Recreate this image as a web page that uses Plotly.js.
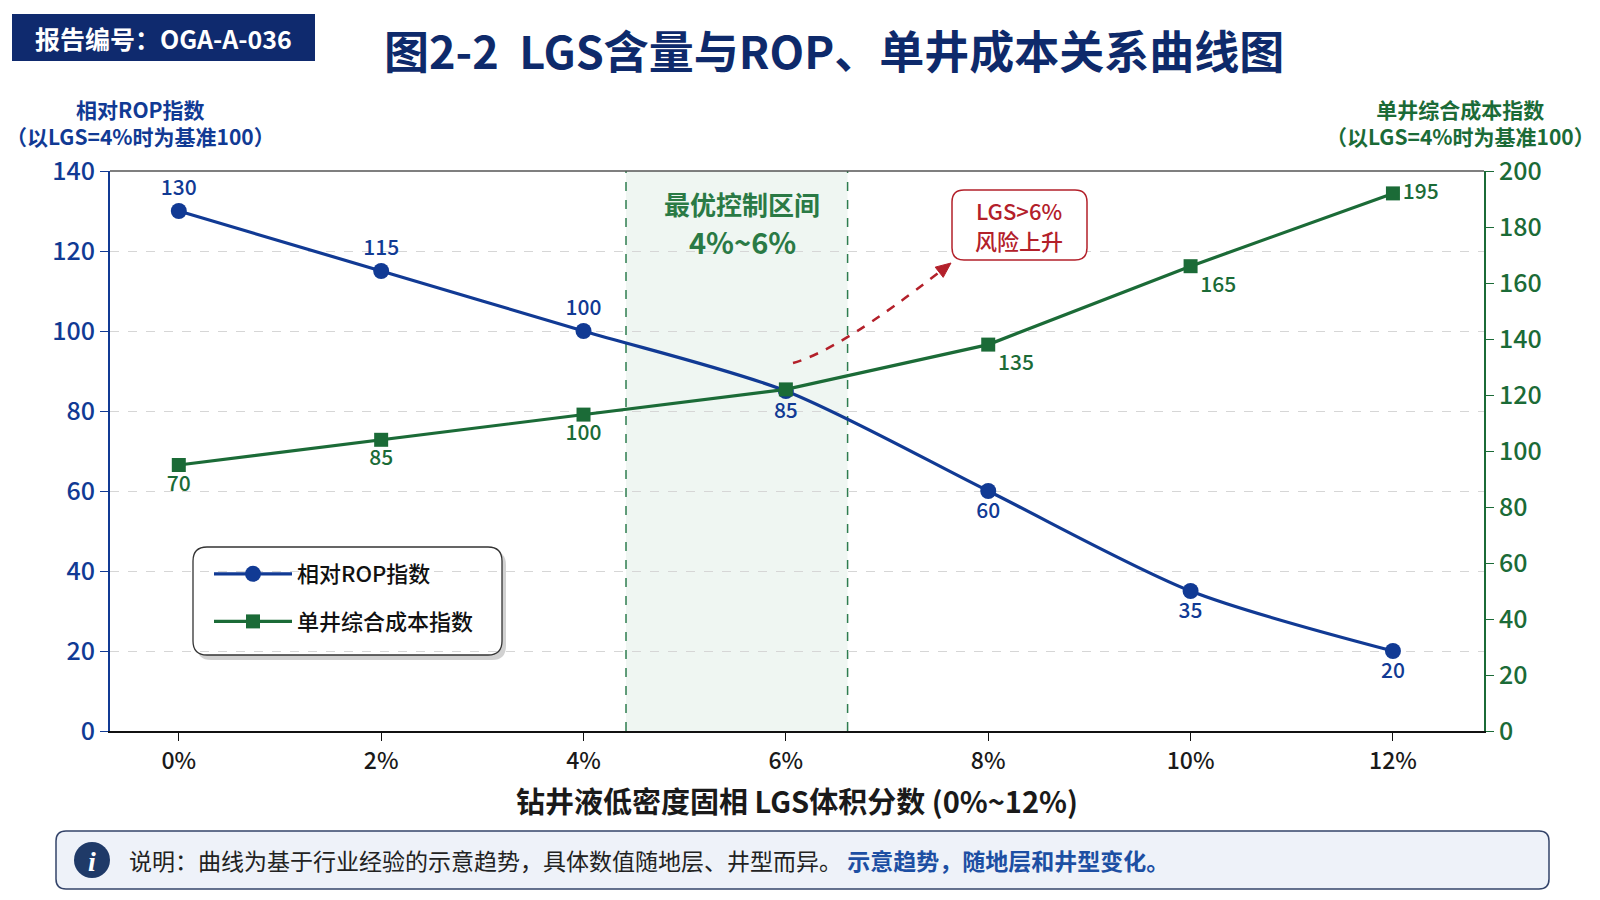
<!DOCTYPE html>
<html>
<head>
<meta charset="utf-8">
<script src="https://cdn.plot.ly/plotly-3.0.1.min.js"></script>
<style>
  html, body { margin: 0; padding: 0; background: #ffffff; }
  #chart { width: 1600px; height: 900px; }
</style>
</head>
<body>
<div id="chart"></div>
<script>
// LGS volume fraction (%) and the two index series
const lgs_pct = [0, 2, 4, 6, 8, 10, 12];
const x_tick_labels = ["0%", "2%", "4%", "6%", "8%", "10%", "12%"];
const rop_index = [130, 115, 100, 85, 60, 35, 20];
const rop_labels = ["130", "115", "100", "85", "60", "35", "20"];
const cost_index = [95, 104, 113, 122, 138, 166, 192];
const cost_labels = ["70", "85", "100", "", "135", "165", "195"];

const font_cjk = "Noto Sans CJK SC, Noto Sans, sans-serif";
const blue = "#113a94";
const green = "#1b6b37";
const navy = "#0e2a6b";
const red = "#b3202a";

// plot area in pixels, used to place the decorations
const plot_l = 110, plot_r = 1484, plot_t = 171, plot_b = 731;
function px(x) { return (x - plot_l) / (plot_r - plot_l); }
function py(y) { return (plot_b - y) / (plot_b - plot_t); }

function rounded_rect(x0, y0, x1, y1, r)
{
    const p = (x, y) => px(x) + "," + py(y);
    return "M" + p(x0 + r, y0) + " L" + p(x1 - r, y0) + " Q" + p(x1, y0) + " " + p(x1, y0 + r) +
        " L" + p(x1, y1 - r) + " Q" + p(x1, y1) + " " + p(x1 - r, y1) +
        " L" + p(x0 + r, y1) + " Q" + p(x0, y1) + " " + p(x0, y1 - r) +
        " L" + p(x0, y0 + r) + " Q" + p(x0, y0) + " " + p(x0 + r, y0) + " Z";
}

function arrow_head(tip_x, tip_y, from_x, from_y, len, half)
{
    const dx = tip_x - from_x, dy = tip_y - from_y;
    const d = Math.sqrt(dx * dx + dy * dy);
    const ux = dx / d, uy = dy / d;
    const bx = tip_x - ux * len, by = tip_y - uy * len;
    const p = (x, y) => px(x) + "," + py(y);
    return "M" + p(tip_x, tip_y) + " L" + p(bx - uy * half, by + ux * half) +
        " L" + p(bx + uy * half, by - ux * half) + " Z";
}

// text placed by pixel centre
function label(x, y, text, size, color, extra)
{
    return Object.assign({xref: "paper", yref: "paper", x: px(x), y: py(y), text: text,
        xanchor: "center", yanchor: "middle", showarrow: false,
        font: {family: font_cjk, size: size, color: color}}, extra || {});
}

const rop_trace = {
    x: lgs_pct, y: rop_index, name: "相对ROP指数",
    mode: "lines+markers+text", text: rop_labels,
    textposition: ["top center", "top center", "top center", "bottom center", "bottom center", "bottom center", "bottom center"],
    textfont: {family: font_cjk, size: 21, color: blue, weight: 500},
    line: {color: blue, width: 3.2, shape: "spline", smoothing: 0.8},
    marker: {symbol: "circle", size: 16, color: blue},
    legendgroup: "a", cliponaxis: false
};
const cost_trace = {
    x: lgs_pct, y: cost_index, name: "单井综合成本指数", yaxis: "y2",
    mode: "lines+markers+text", text: cost_labels,
    textposition: ["bottom center", "bottom center", "bottom center", "bottom center", "bottom right", "bottom right", "middle right"],
    textfont: {family: font_cjk, size: 21, color: green, weight: 500},
    line: {color: green, width: 3.2},
    marker: {symbol: "square", size: 14, color: green},
    legendgroup: "b", cliponaxis: false
};

const shapes = [
    // optimal band 4%~6%
    {type: "rect", xref: "x", yref: "paper", x0: 4.42, x1: 6.61, y0: 0, y1: 1,
     fillcolor: "rgba(46,139,87,0.08)", line: {width: 0}, layer: "below"},
    {type: "line", xref: "x", yref: "paper", x0: 4.42, x1: 4.42, y0: 0, y1: 1,
     line: {color: "#2e7d4f", width: 1.5, dash: "dash"}, layer: "below"},
    {type: "line", xref: "x", yref: "paper", x0: 6.61, x1: 6.61, y0: 0, y1: 1,
     line: {color: "#2e7d4f", width: 1.5, dash: "dash"}, layer: "below"},
    // top frame line
    {type: "line", xref: "paper", yref: "paper", x0: 0, x1: 1, y0: 1, y1: 1,
     line: {color: "#555555", width: 1.5}},
    // legend box with shadow
    {type: "path", xref: "paper", yref: "paper", path: rounded_rect(197, 551, 506, 660, 14),
     fillcolor: "rgba(0,0,0,0.18)", line: {width: 0}, layer: "between"},
    {type: "path", xref: "paper", yref: "paper", path: rounded_rect(193, 547, 502, 655, 14),
     fillcolor: "#ffffff", line: {color: "#333333", width: 1.3}, layer: "between"},
    // risk arrow
    {type: "path", xref: "paper", yref: "paper",
     path: "M" + px(793) + "," + py(363) + " Q" + px(840) + "," + py(350) + " " + px(942) + "," + py(270),
     line: {color: red, width: 2.5, dash: "dash"}},
    {type: "path", xref: "paper", yref: "paper", path: arrow_head(951, 263, 840, 350, 15, 6.5),
     fillcolor: red, line: {color: red, width: 1}},
    // risk box
    {type: "path", xref: "paper", yref: "paper", path: rounded_rect(952, 190, 1087, 260, 12),
     fillcolor: "#ffffff", line: {color: red, width: 1.5}},
    // report badge
    {type: "rect", xref: "paper", yref: "paper", x0: px(12), x1: px(315), y0: py(14), y1: py(61),
     fillcolor: "#0f2a6e", line: {width: 0}},
    // note box
    {type: "path", xref: "paper", yref: "paper", path: rounded_rect(56, 831, 1549, 889, 10),
     fillcolor: "#eef2f9", line: {color: "#34446a", width: 1.5}},
    {type: "circle", xref: "paper", yref: "paper", x0: px(74), x1: px(110), y0: py(878), y1: py(842),
     fillcolor: "#1f3a68", line: {width: 0}}
];

const risk_font = {family: font_cjk, size: 22, color: red, weight: 500};
const annotations = [
    label(163, 38, "<b>报告编号：OGA-A-036</b>", 25, "#ffffff"),
    label(834, 49, "<b>图2-2  LGS含量与ROP、单井成本关系曲线图</b>", 45, navy),
    label(140, 122, "<b>相对ROP指数<br>（以LGS=4%时为基准100）</b>", 21, blue),
    label(1460, 122, "<b>单井综合成本指数<br>（以LGS=4%时为基准100）</b>", 21, green),
    label(742, 203, "<b>最优控制区间</b>", 26, "#2a7a45"),
    label(742, 241, "<b>4%~6%</b>", 29, "#2a7a45"),
    label(1019, 210, "LGS>6%", 22, red, {font: risk_font}),
    label(1019, 240, "风险上升", 22, red, {font: risk_font}),
    label(92, 861, "<b><i>i</i></b>", 28, "#ffffff", {font: {family: "Liberation Serif, serif", size: 28, color: "#ffffff"}}),
    label(127, 860, "说明：曲线为基于行业经验的示意趋势，具体数值随地层、井型而异。 <span style=\"color:#1d4fa3\"><b>示意趋势，随地层和井型变化。</b></span>",
          23, "#222222", {xanchor: "left"})
];

const layout = {
    width: 1600, height: 900,
    margin: {l: plot_l, r: 1600 - plot_r, t: plot_t, b: 900 - plot_b},
    paper_bgcolor: "#ffffff", plot_bgcolor: "#ffffff",
    showlegend: true,
    legend: {x: px(209), y: py(553), xanchor: "left", yanchor: "top", bgcolor: "rgba(0,0,0,0)",
             borderwidth: 0, traceorder: "grouped", tracegroupgap: 16, itemwidth: 78,
             font: {family: font_cjk, size: 22, color: "#111111", weight: 500}},
    xaxis: {range: [-0.68, 12.9], tickvals: lgs_pct, ticktext: x_tick_labels,
            showgrid: false, zeroline: false, showline: true, linecolor: "#111111", linewidth: 2,
            ticks: "outside", ticklen: 8, tickcolor: "#111111",
            tickfont: {family: font_cjk, size: 23, color: "#1a1a1a", weight: 500},
            title: {text: "<b>钻井液低密度固相 LGS体积分数 (0%~12%)</b>", standoff: 18,
                    font: {family: font_cjk, size: 29, color: "#1a1a1a"}}},
    yaxis: {range: [0, 140], dtick: 20, showline: true, linecolor: blue, linewidth: 2,
            ticks: "outside", ticklen: 8, tickcolor: blue, zeroline: false,
            showgrid: true, gridcolor: "#d6d6d6", griddash: "dash", gridwidth: 1,
            tickfont: {family: font_cjk, size: 25, color: blue, weight: 500}},
    yaxis2: {range: [0, 200], dtick: 20, overlaying: "y", side: "right", showgrid: false,
             showline: true, linecolor: green, linewidth: 2, zeroline: false,
             ticks: "outside", ticklen: 8, tickcolor: green,
             tickfont: {family: font_cjk, size: 25, color: green, weight: 500}},
    shapes: shapes,
    annotations: annotations
};

Plotly.newPlot("chart", [rop_trace, cost_trace], layout, {displayModeBar: false, staticPlot: true});
</script>
</body>
</html>
